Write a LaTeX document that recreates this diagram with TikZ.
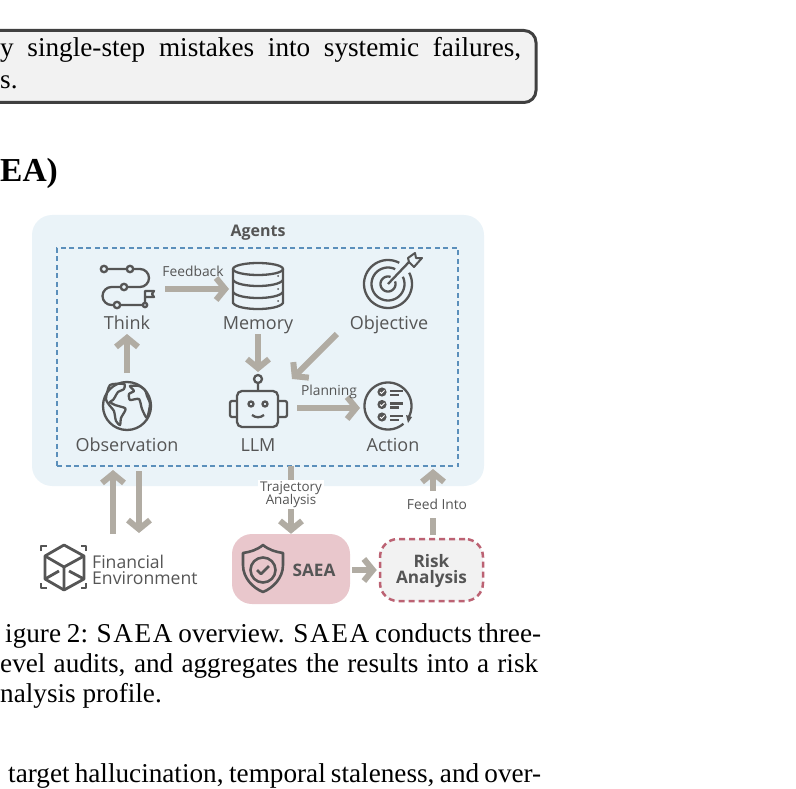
\documentclass[tikz,border=0pt]{standalone}
\usepackage{fontspec}
\setmainfont{Liberation Serif}
\setsansfont{Open Sans}
\usetikzlibrary{arrows.meta,positioning}
\definecolor{panelblue}{HTML}{EAF3F8}
\definecolor{dashblue}{HTML}{5B8FBB}
\definecolor{inkgray}{HTML}{555555}
\definecolor{edgegray}{HTML}{404040}
\definecolor{flowgray}{HTML}{B1ACA3}
\definecolor{saearose}{HTML}{E9C7CC}
\definecolor{riskred}{HTML}{BC6273}
\definecolor{boxgray}{HTML}{F2F2F2}
\tikzset{
  iconline/.style={draw=inkgray,line width=2.3pt,line join=round},
  iconbox/.style={inner sep=0,outer sep=0,minimum width=#1,minimum height=#1},
  lbl/.style={inner sep=0,outer sep=0,text=inkgray,font=\sffamily\fontsize{18}{18}\selectfont,text height=19pt,text depth=5pt},
  smalllbl/.style={inner sep=0,text=inkgray,font=\sffamily\fontsize{13.8}{13}\selectfont,align=center},
  boldlbl/.style={inner sep=0,text=inkgray,font=\sffamily\bfseries\fontsize{17.2}{16}\selectfont,align=center},
  flow/.style={draw=flowgray,line width=6pt,-{Straight Barb[length=9pt,width=22pt]}},
  bodytext/.style={inner sep=0,anchor=base west,font=\fontsize{27.2}{30}\selectfont}
}
\newcommand{\saeaword}{{\addfontfeature{LetterSpace=6}SAEA}}
\begin{document}
\begin{tikzpicture}[x=1pt,y=-1pt]
    \path[use as bounding box,clip] (0,0) rectangle (796,789);

    % page text
    \node [draw=edgegray,fill=boxgray,line width=3pt,rounded corners=12pt,minimum width=556pt,minimum height=72pt] (callout) at (258,66.5) {};
    \node [bodytext] (topa) at (0,57) {\makebox[521pt][s]{y single-step mistakes into systemic failures,}};
    \node [bodytext] (topb) at (0,89) {s.};
    \node [bodytext,font=\bfseries\fontsize{33.5}{33}\selectfont] (heading) at (0,182) {EA)};
    \node [bodytext] (capa) at (5,642) {\makebox[536pt][s]{igure 2: \saeaword{} overview. \saeaword{} conducts three-}};
    \node [bodytext] (capb) at (0,672) {\makebox[538pt][s]{evel audits, and aggregates the results into a risk}};
    \node [bodytext] (capc) at (0,702) {nalysis profile.};
    \node [bodytext] (nexta) at (8,782) {\makebox[533pt][s]{target hallucination, temporal staleness, and over-}};

    % agents panel
    \node [fill=panelblue,rounded corners=20pt,minimum width=452pt,minimum height=271pt,inner sep=0] (agents) at (258,350.5) {};
    \node [draw=dashblue,line width=1.8pt,dash pattern=on 5pt off 3.5pt,minimum width=401pt,minimum height=218pt,inner sep=0,outer sep=0] (innerbox) at (257.5,357) {};
    \node [inner sep=0,text=inkgray,font=\sffamily\bfseries\fontsize{16}{16}\selectfont] (agentstitle) at (258,232.5) {Agents};

    \node [lbl] (think) at (127,322) {Think};
    \node [lbl] (memory) at (258,322) {Memory};
    \node [lbl] (objective) at (389,322) {Objective};
    \node [lbl] (observation) at (127,444) {Observation};
    \node [lbl] (llm) at (258,444) {LLM};
    \node [lbl] (action) at (393,444) {Action};

    \node [iconbox=48pt] (thinkicon) at (127,289) {};
    \node [iconbox=58pt] (memoryicon) at (258,289) {};
    \node [iconbox=48pt] (targeticon) at (388,284) {};
    \node [iconbox=48pt] (globeicon) at (127,406) {};
    \node [iconbox=58pt] (llmicon) at (258,401) {};
    \node [iconbox=48pt] (actionicon) at (388,406) {};

    % think icon
    \foreach \x/\y in {104/269,130/269,124/287,117/305} \draw [iconline] (\x,\y) circle (3.2);
    \draw [iconline] (145,305) circle (2.2);
    \draw [iconline,rounded corners=9pt] (133,269) -- (149,269) -- (149,287) -- (127,287);
    \draw [iconline,rounded corners=9pt] (121,287) -- (102.5,287) -- (102.5,305) -- (114,305);
    \draw [iconline] (107,269) -- (127,269) (120,305) -- (143,305) (145,303) -- (145,291) -- (154,291) -- (152,294) -- (154,297) -- (145,297);

    % memory icon
    \draw [iconline] (258,269) ellipse (25 and 6);
    \draw [iconline] (233,269) -- (233,303) .. controls (238,311) and (278,311) .. (283,303) -- (283,269);
    \draw [iconline] (233,280) .. controls (238,288) and (278,288) .. (283,280);
    \draw [iconline] (233,292) .. controls (238,300) and (278,300) .. (283,292);
    \foreach \y in {276,289,301} \fill [inkgray] (278,\y) circle (1);

    % target icon
    \foreach \r/\a/\b in {24/62/388,16.5/64/386,7.5/70/380}
    \draw [iconline] plot [domain=\a:\b,samples=50] ({388+\r*cos(\x)},{284-\r*sin(\x)});
    \draw [iconline] (388,284) -- (409,262);
    \draw [iconline,line width=2pt] (408,258) -- (415,253) -- (416,258) -- (422,258) -- (414,267) -- (409,262) -- cycle;

    % globe icon
    \draw [iconline] (127,406) circle (24);
    \draw [iconline] plot [smooth cycle,tension=0.4] coordinates {(110,385) (124,384) (124,389) (118,392) (115,397) (113,400) (110,402) (115,405) (125,408) (125,411) (121,418) (120,425) (116,421) (114,411) (110,406) (106,399)};
    \draw [iconline] plot [smooth cycle,tension=0.4] coordinates {(130,386) (139,386) (145,390) (147,396) (150,404) (147,418) (142,409) (139,399) (130,400) (129,394) (134,391)};

    % robot icon
    \draw [iconline,rounded corners=5pt] (237,391) rectangle (278,427);
    \draw [iconline,rounded corners=2pt] (237,401) -- (230,401) -- (230,417) -- (237,417);
    \draw [iconline,rounded corners=2pt] (278,401) -- (287,401) -- (287,417) -- (278,417);
    \draw [iconline] (258,379) circle (4) (258,383) -- (258,391);
    \draw [iconline] (251,404) circle (2.5) (265,404) circle (2.5);
    \draw [iconline] (252,415) .. controls (256,418) and (260,418) .. (264,415);

    % action icon
    \draw [iconline] plot [domain=-49:-391,samples=80] ({388+23.5*cos(\x)},{406-23.5*sin(\x)});
    \fill [inkgray] (406,415) -- (412,417) -- (408,423) -- cycle;
    \foreach \y in {392,404.5,417} {
      \fill [inkgray] (382,\y) circle (4.6);
      \draw [white,line width=1pt] (380,\y) -- (381.5,\y+1.5) -- (384.5,\y-1.5);
      \draw [iconline] (390,\y-1) -- (403,\y-1) (390,\y+3) -- (399,\y+3);
    }

    % flows inside the panel
    \draw [flow,shorten <=14pt] (thinkicon.east) -- (memoryicon.west);
    \node [smalllbl] (feedback) at (193,271) {Feedback};
    \draw [flow,shorten <=9pt] (globeicon.north) -- (think.south);
    \draw [flow] (memory.south) -- (llmicon.north);
    \draw [flow] ([shift={(-13,0)}]objective.south west) -- ([shift={(5,7)}]llmicon.north east);
    \draw [flow] ([shift={(10,7)}]llmicon.east) -- ([shift={(-4,2)}]actionicon.west);
    \node [smalllbl] (planning) at (329,392) {Planning};

    % environment
    \node [iconbox=46pt] (envicon) at (64,567) {};
    \draw [iconline,line width=2.8pt] (64,545) -- (84,556) -- (84,579) -- (64,590) -- (45,579) -- (45,556) -- cycle;
    \draw [iconline,line width=2.8pt] (45,556) -- (64,567) -- (84,556) (64,567) -- (64,590) (45,579) -- (59,571) (84,579) -- (69,571);
    \draw [iconline,line width=2.8pt] (41,551) -- (41,546) -- (47,546) (81,546) -- (86,546) -- (86,551) (41,583) -- (41,588) -- (47,588) (81,588) -- (86,588) -- (86,583);
    \node [right=5pt of envicon,yshift=-3pt,inner sep=0,text=inkgray,font=\sffamily\fontsize{17.6}{16.5}\selectfont,align=left] (envtext) {Financial\\Environment};
    \draw [flow] ([shift={(49,-10)}]envicon.north) -- ([shift={(56,4)}]innerbox.south west);
    \draw [flow] ([shift={(82,5)}]innerbox.south west) -- ([shift={(75,-11)}]envicon.north);

    % audit boxes
    \node [fill=saearose,rounded corners=20pt,minimum width=118pt,minimum height=70pt,inner sep=0] (saea) at (291,569) {};
    \node [boldlbl] (saeatext) at (314,570) {SAEA};
    \draw [iconline,line width=2.6pt] (263,545) .. controls (257,550) and (250,552) .. (243,553) -- (243,565) .. controls (243,578) and (253,588) .. (263,592) .. controls (273,588) and (283,578) .. (283,565) -- (283,553) .. controls (276,552) and (269,550) .. (263,545) -- cycle;
    \draw [iconline,line width=2.6pt] (263,570) circle (12.5);
    \draw [iconline,line width=2.6pt] (257,570) -- (261,574) -- (269,566);
    \node [draw=riskred,fill=boxgray,line width=2.5pt,dash pattern=on 6pt off 4pt,rounded corners=18pt,minimum width=103pt,minimum height=62pt,inner sep=0] (risk) at (431.5,570) {};
    \node [boldlbl] (risktext) at (431.5,571) {Risk\\Analysis};

    \draw [flow] (saea.north |- innerbox.south) -- (saea.north);
    \node [fill=white,inner sep=0,minimum width=66pt,minimum height=29pt,smalllbl,font=\sffamily\fontsize{13.4}{12}\selectfont] (trajectory) at (291,494.5) {Trajectory\\[-2pt]Analysis};
    \draw [flow,shorten <=2pt,shorten >=2pt] (saea.east |- risk.west) -- (risk.west);
    \draw [flow] ([shift={(1.5,-3)}]risk.north) -- ([shift={(376,3)}]innerbox.south west);
    \node [fill=white,inner sep=0,minimum width=62pt,minimum height=27pt,smalllbl] (feedinto) at (437,504.5) {Feed Into};
\end{tikzpicture}
\end{document}
